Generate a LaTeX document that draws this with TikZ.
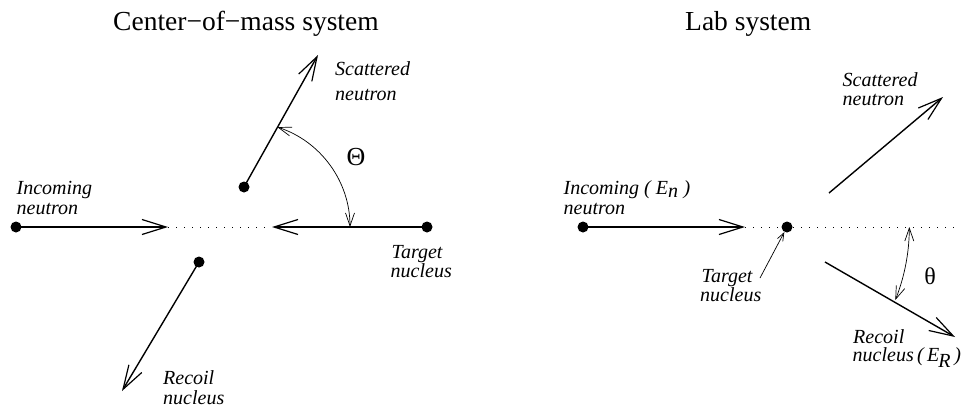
\documentclass[tikz,border=0pt]{standalone}
\usepackage{fontspec}
\setmainfont{Liberation Serif}
\usetikzlibrary{arrows.meta}
\begin{document}
\begin{tikzpicture}[x=1pt,y=1pt,yscale=-1,
  dotnode/.style={circle,fill=black,inner sep=0pt,minimum size=11pt},
  vec/.style={line width=1.4pt,-{Straight Barb[length=24pt,width=15pt,line width=1.2pt]}},
  anglearc/.style={line width=0.7pt,{Straight Barb[length=13pt,width=9pt]}-{Straight Barb[length=13pt,width=9pt]}},
  pointer/.style={line width=0.7pt,-{Straight Barb[length=8pt,width=6pt]}},
  dotline/.style={line width=0.9pt,dash pattern=on 1pt off 7pt},
  lbl/.style={font=\fontsize{20}{20}\selectfont\itshape,inner sep=0pt,anchor=base west},
  ttl/.style={font=\fontsize{27.5}{27.5}\selectfont,inner sep=0pt,anchor=base west},
  greek/.style={font=\fontsize{26}{26}\selectfont,inner sep=0pt}]
\useasboundingbox (0,0) rectangle (961,410);

% ---------------- Center-of-mass system ----------------
\node[ttl] (tcm) at (113,30) {Center\textminus of\textminus mass system};

\node[dotnode] (cmIn) at (16,227) {};
\node[dotnode] (cmTg) at (427,227) {};
\node[dotnode] (cmSc) at (244,187) {};
\node[dotnode] (cmRc) at (199,262) {};
\coordinate (cmInTip) at (168,227);
\coordinate (cmTgTip) at (272,227);
\coordinate (cmScTip) at (318,55);
\coordinate (cmRcTip) at (122,391);

\draw[vec] (cmIn.center) -- (cmInTip);
\draw[dotline] (cmInTip) -- (cmTgTip);
\draw[vec] (cmTg.center) -- (cmTgTip);
\draw[vec] (cmSc.center) -- (cmScTip);
\draw[vec] (cmRc.center) -- (cmRcTip);

\coordinate (cmArcA) at (350,227);
\draw[anglearc] (cmArcA) arc[start angle=0,end angle=-72,radius=105];
\node[greek] (Th) at (356,157) {Θ};

\node[lbl] (l1) at (16.5,194) {Incoming};
\node[lbl] (l2) at (16.5,214) {neutron};
\node[lbl] (l3) at (335,75) {Scattered};
\node[lbl] (l4) at (335,100) {neutron};
\node[lbl] (l5) at (391.5,258) {Target};
\node[lbl] (l6) at (390.5,277) {nucleus};
\node[lbl] (l7) at (163,384) {Recoil};
\node[lbl] (l8) at (163,404) {nucleus};

% ---------------- Lab system ----------------
\node[ttl] (tlab) at (685,30) {Lab system};

\node[dotnode] (lbIn) at (583,227) {};
\node[dotnode] (lbTg) at (787,227) {};
\coordinate (lbInTip) at (745,227);
\coordinate (lbEnd) at (961,227);
\coordinate (lbScS) at (829,193);
\coordinate (lbScTip) at (943,97);
\coordinate (lbRcS) at (825,262);
\coordinate (lbRcTip) at (955,337);

\draw[vec] (lbIn.center) -- (lbInTip);
\draw[dotline] (lbInTip) -- (lbTg.center) -- (lbEnd);
\draw[vec] (lbScS) -- (lbScTip);
\draw[vec] (lbRcS) -- (lbRcTip);

\coordinate (lbArcA) at (909.3,227);
\draw[anglearc] (lbArcA) arc[start angle=0,end angle=21.7,radius=197.6];
\node[greek,font=\fontsize{24}{24}\selectfont] (th) at (930,276) {θ};

\coordinate (ptrS) at (760,278);
\draw[pointer] (ptrS) -- (lbTg);

\node[lbl] (m1) at (563.5,194) {Incoming};
\node[lbl] (m2) at (563.5,214) {neutron};
\node[lbl] (m3) at (644,194) {(\hspace{5pt}E$_{\textit{n}}$\hspace{5pt})};
\node[lbl] (m4) at (842.5,86) {Scattered};
\node[lbl] (m5) at (842.5,105) {neutron};
\node[lbl] (m6) at (701.5,282.5) {Target};
\node[lbl] (m7) at (700,301.5) {nucleus};
\node[lbl] (m8) at (853,343) {Recoil};
\node[lbl] (m9) at (852.5,361.5) {nucleus\,(\,E$_{\hspace{-1pt}\textit{R}}$\,)};
\end{tikzpicture}
\end{document}
